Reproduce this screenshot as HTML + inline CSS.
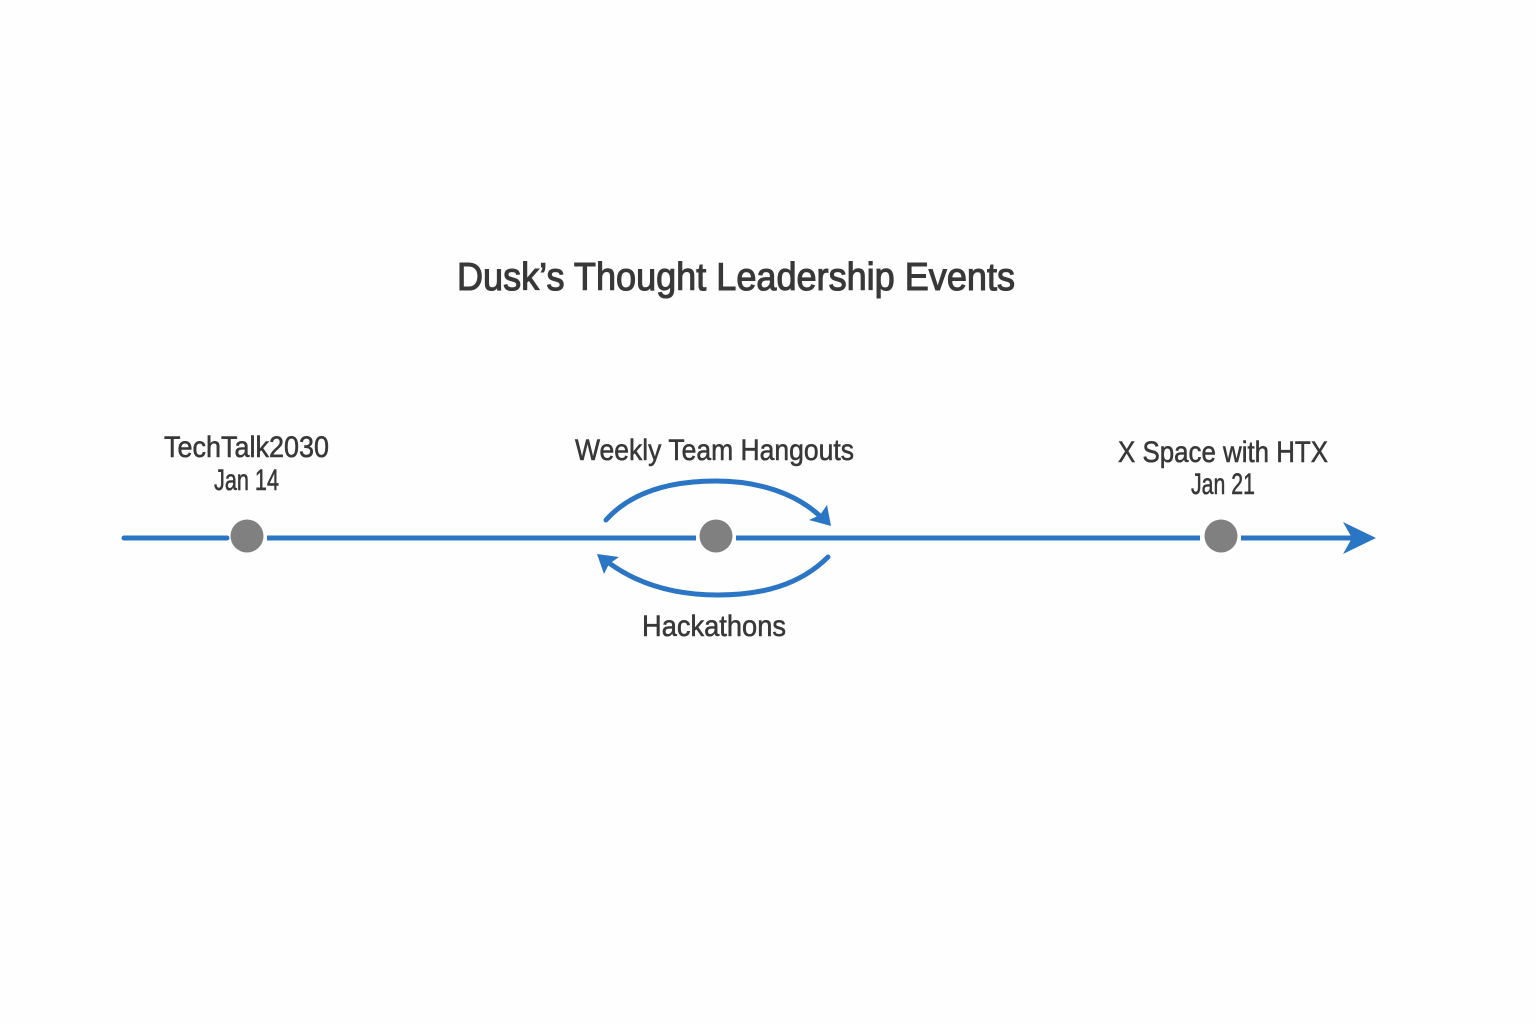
<!DOCTYPE html>
<html lang="en">
<head>
<meta charset="utf-8">
<title>Dusk's Thought Leadership Events</title>
<style>
html,body{margin:0;padding:0;background:#fefefe}
svg{display:block}
text{font-family:"Liberation Sans",sans-serif;fill:#383838;stroke:#383838;stroke-width:.55px;text-anchor:start}
</style>
</head>
<body>
<svg width="1536" height="1024" viewBox="0 0 1536 1024" xmlns="http://www.w3.org/2000/svg">
<rect width="1536" height="1024" fill="#fefefe"/>
<text x="457" y="290" font-size="39" textLength="558" lengthAdjust="spacingAndGlyphs" style="stroke-width:1.1px">Dusk’s Thought Leadership Events</text>
<text x="164" y="457" font-size="30" textLength="165" lengthAdjust="spacingAndGlyphs">TechTalk2030</text>
<text x="214" y="490" font-size="30" textLength="65" lengthAdjust="spacingAndGlyphs">Jan 14</text>
<text x="575" y="460" font-size="30" textLength="279" lengthAdjust="spacingAndGlyphs">Weekly Team Hangouts</text>
<text x="1118" y="462" font-size="30" textLength="210" lengthAdjust="spacingAndGlyphs">X Space with HTX</text>
<text x="1191" y="494" font-size="30" textLength="64" lengthAdjust="spacingAndGlyphs">Jan 21</text>
<text x="642" y="636" font-size="30" textLength="144" lengthAdjust="spacingAndGlyphs">Hackathons</text>
<g stroke="#2b75c5" stroke-width="5" fill="none">
<path d="M124 538H227" stroke-linecap="round"/>
<path d="M267 538H696"/>
<path d="M736 538H1200"/>
<path d="M1241 538H1355"/>
<path d="M606 520C632 491 672 481 716 481C760 481 796 494 820 516" stroke-linecap="round"/>
<path d="M828 557C800 585 762 595 718 595C674 595 638 584 609 563" stroke-linecap="round"/>
</g>
<g fill="#2b75c5">
<path d="M1376 538L1343 522L1352 538L1343 554Z"/>
<path d="M831 526L827 505L820 515L809 520Z"/>
<path d="M597 554L619 557L609 564L604 574Z"/>
</g>
<g fill="#808080">
<circle cx="247" cy="536" r="16.5"/>
<circle cx="716" cy="536" r="16.5"/>
<circle cx="1221" cy="536" r="16.5"/>
</g>
</svg>
</body>
</html>
